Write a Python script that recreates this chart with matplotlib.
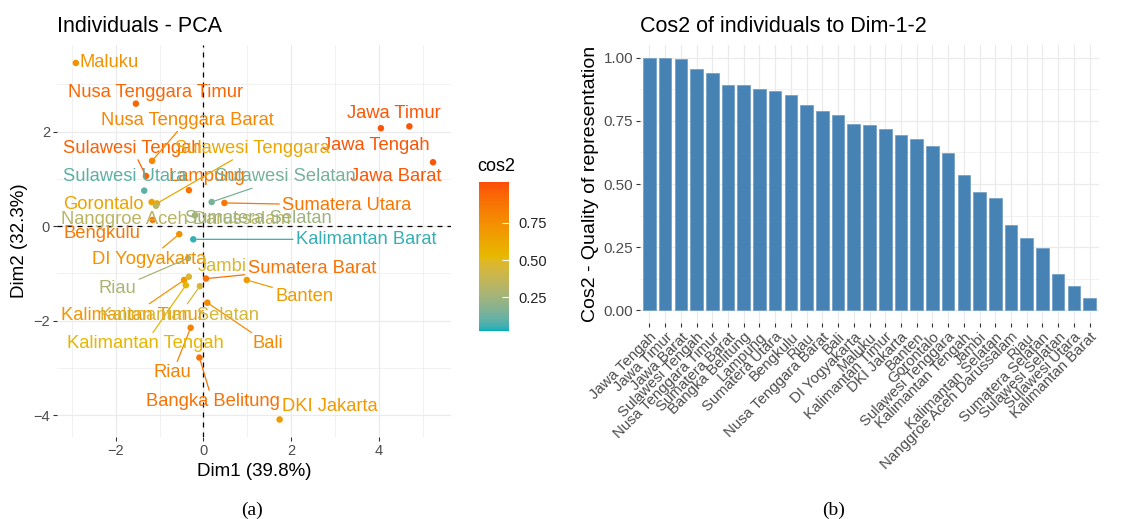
import numpy as np
import matplotlib
matplotlib.use('Agg')
import matplotlib.pyplot as plt
from matplotlib.colors import ListedColormap, Normalize, to_rgb
from matplotlib.ticker import MultipleLocator, FixedLocator

plt.rcParams['font.family'] = ['Liberation Sans', 'DejaVu Sans']

#### data: provinces sorted by cos2 on Dim-1-2 ####

provinces = ['Jawa Tengah', 'Jawa Timur', 'Jawa Barat', 'Sulawesi Tengah',
             'Nusa Tenggara Timur', 'Sumatera Barat', 'Bangka Belitung', 'Lampung',
             'Sumatera Utara', 'Bengkulu', 'Riau', 'Nusa Tenggara Barat', 'Bali',
             'DI Yogyakarta', 'Maluku', 'Kalimantan Timur', 'DKI Jakarta', 'Banten',
             'Gorontalo', 'Sulawesi Tenggara', 'Kalimantan Tengah', 'Jambi',
             'Kalimantan Selatan', 'Nanggroe Aceh Darussalam', 'Riau',
             'Sumatera Selatan', 'Sulawesi Selatan', 'Sulawesi Utara', 'Kalimantan Barat']

cos2 = [1.000, 1.000, 0.996, 0.954, 0.938, 0.892, 0.892, 0.877, 0.867, 0.851,
        0.814, 0.789, 0.773, 0.737, 0.732, 0.716, 0.695, 0.680, 0.649, 0.624,
        0.536, 0.468, 0.443, 0.338, 0.287, 0.246, 0.143, 0.096, 0.050]

dim1 = [4.05, 4.70, 5.24, -1.31, -1.54, 0.06, -0.09, -0.33, 0.48, -1.16,
        -0.29, -1.17, 0.09, -0.55, -2.91, -0.44, 1.74, 0.99, -1.18, -1.06,
        -0.40, -0.33, -0.08, -1.08, -0.35, -0.19, 0.19, -1.35, -0.23]

dim2 = [2.07, 2.11, 1.35, 1.06, 2.59, -1.11, -2.78, 0.76, 0.49, 0.13,
        -2.15, 1.38, -1.62, -0.17, 3.45, -1.14, -4.09, -1.14, 0.51, 0.48,
        -1.25, -1.07, -1.27, 0.43, -0.68, 0.23, 0.51, 0.75, -0.28]

# repelled label centres (same order as provinces)
label_x = [3.94, 4.35, 4.38, -1.62, -1.08, 2.47, 0.21, 0.08, 3.27, -2.32,
           -0.70, -0.37, 1.48, -1.24, -2.14, -1.61, 2.89, 2.30, -2.28, 1.11,
           -1.33, 0.43, -0.55, -0.63, -1.96, 1.26, 1.86, -1.79, 3.71]
label_y = [1.71, 2.38, 1.04, 1.64, 2.82, -0.89, -3.71, 1.04, 0.44, -0.15,
           -3.10, 2.24, -2.49, -0.70, 3.45, -1.88, -3.82, -1.49, 0.46, 1.64,
           -2.49, -0.86, -1.88, 0.13, -1.32, 0.16, 1.04, 1.04, -0.28]
# labels pushed far enough from their point to get a connector
has_segment = [False, False, False, True, False, True, True, False, True, False,
               True, True, True, True, False, True, False, True, False, True,
               True, False, True, False, True, False, True, False, True]

gradient_cols = ['#00AFBB', '#E7B800', '#FC4E07']

#### colour gradient interpolated in Lab space ####

_M = np.array([[0.4124, 0.3576, 0.1805],
               [0.2126, 0.7152, 0.0722],
               [0.0193, 0.1192, 0.9505]])
_WHITE = np.array([0.95047, 1.0, 1.08883])

def rgb_to_lab(rgb):
    rgb = np.asarray(rgb, float)
    lin = np.where(rgb <= 0.04045, rgb / 12.92, ((rgb + 0.055) / 1.055) ** 2.4)
    xyz = _M @ lin / _WHITE
    f = np.where(xyz > 0.008856, np.cbrt(xyz), 7.787 * xyz + 16 / 116)
    return np.array([116 * f[1] - 16, 500 * (f[0] - f[1]), 200 * (f[1] - f[2])])

def lab_to_rgb(lab):
    fy = (lab[0] + 16) / 116
    f = np.array([fy + lab[1] / 500, fy, fy - lab[2] / 200])
    xyz = np.where(f ** 3 > 0.008856, f ** 3, (f - 16 / 116) / 7.787) * _WHITE
    lin = np.linalg.solve(_M, xyz)
    lin = np.clip(lin, 0, 1)
    rgb = np.where(lin <= 0.0031308, 12.92 * lin, 1.055 * lin ** (1 / 2.4) - 0.055)
    return np.clip(rgb, 0, 1)

stops = [rgb_to_lab(to_rgb(c)) for c in gradient_cols]
table = []
for t in np.linspace(0, 1, 256):
    seg = min(int(t * 2), 1)
    u = t * 2 - seg
    table.append(lab_to_rgb(stops[seg] * (1 - u) + stops[seg + 1] * u))
grad = ListedColormap(table, name='cos2')

lo, hi = min(cos2), max(cos2)
half_bin = (hi - lo) / 38
norm = Normalize(vmin=lo - half_bin, vmax=hi + half_bin)
text_grey = '#4D4D4D'
grid_col = '#EBEBEB'

W, H = 1131, 519
fig = plt.figure(figsize=(W / 100, H / 100), dpi=100, facecolor='white')

def px_axes(x0, y0, x1, y1):
    return fig.add_axes([x0 / W, 1 - y1 / H, (x1 - x0) / W, (y1 - y0) / H])

def minimal(ax):
    for side in ['top', 'bottom', 'left', 'right']:
        ax.spines[side].set_visible(False)
    ax.set_axisbelow(True)
    ax.tick_params(which='major', length=3, width=0.8, color='#333333',
                   labelcolor=text_grey, labelsize=10.5, pad=2)
    ax.tick_params(which='minor', length=0)
    ax.grid(which='major', color=grid_col, linewidth=0.9)
    ax.grid(which='minor', color=grid_col, linewidth=0.5)

############################
#### PCA individuals map ####
############################

ax1 = px_axes(57, 45, 451, 437)
minimal(ax1)
ax1.set_xlim(-3.34, 5.65)
ax1.set_ylim(-4.46, 3.83)
ax1.xaxis.set_major_locator(FixedLocator([-2, 0, 2, 4]))
ax1.xaxis.set_minor_locator(FixedLocator([-3, -1, 1, 3, 5]))
ax1.yaxis.set_major_locator(FixedLocator([-4, -2, 0, 2]))
ax1.yaxis.set_minor_locator(FixedLocator([-3, -1, 1, 3]))

ax1.axhline(0, color='black', linestyle=(0, (4, 4)), linewidth=0.9, zorder=1)
ax1.axvline(0, color='black', linestyle=(0, (4, 4)), linewidth=0.9, zorder=1)

ax1.scatter(dim1, dim2, c=cos2, cmap=grad, norm=norm, s=22, zorder=3, linewidths=0)

for name, px, py, lx, ly, c, seg in zip(provinces, dim1, dim2, label_x, label_y,
                                        cos2, has_segment):
    col = grad(norm(c))
    if seg:
        ax1.annotate(name, xy=(px, py), xytext=(lx, ly), ha='center', va='center',
                     fontsize=13.2, color=col, zorder=4,
                     arrowprops=dict(arrowstyle='-', color=col, lw=0.9,
                                     shrinkA=0, shrinkB=2.5))
    else:
        ax1.text(lx, ly, name, ha='center', va='center', fontsize=13.2,
                 color=col, zorder=4)

ax1.set_title('Individuals - PCA', loc='left', fontsize=15.5, pad=9)
ax1.set_xlabel('Dim1 (39.8%)', fontsize=13.5, labelpad=4)
ax1.set_ylabel('Dim2 (32.3%)', fontsize=13.5, labelpad=4)

# colour legend
cax = px_axes(479, 182, 509, 331)
sm = plt.cm.ScalarMappable(cmap=grad, norm=norm)
cb = fig.colorbar(sm, cax=cax)
cb.outline.set_visible(False)
cb.set_ticks([0.25, 0.50, 0.75])
cb.set_ticklabels(['0.25', '0.50', '0.75'])
cax.tick_params(length=5, width=0.8, color='white', direction='in',
                labelsize=10.5, labelcolor='#222222', pad=7)
cax.set_title('cos2', loc='left', fontsize=13, pad=8, x=-0.05)

##################################
#### cos2 bar chart ####
##################################

ax2 = px_axes(640, 45, 1099, 323)
minimal(ax2)
pos = np.arange(len(provinces))
ax2.bar(pos, cos2, width=0.8, color='#4682B4', edgecolor='#6E9CC6', linewidth=0.5, zorder=2)
ax2.set_xlim(-0.6, len(provinces) - 0.4)
ax2.set_ylim(-0.05, 1.05)
ax2.set_xticks(pos)
ax2.set_xticklabels(provinces, rotation=45, ha='right', rotation_mode='anchor',
                    fontsize=10.8, color=text_grey)
ax2.yaxis.set_major_locator(FixedLocator([0, 0.25, 0.5, 0.75, 1.0]))
ax2.yaxis.set_minor_locator(MultipleLocator(0.125))
ax2.set_yticklabels(['0.00', '0.25', '0.50', '0.75', '1.00'])
ax2.tick_params(axis='y', labelsize=11)
ax2.set_title('Cos2 of individuals to Dim-1-2', loc='left', fontsize=15.5, pad=9)
ax2.set_ylabel('Cos2 - Quality of representation', fontsize=14, labelpad=3)

# panel captions
fig.text(252 / W, 1 - 510 / H, '(a)', family=['Liberation Serif', 'DejaVu Serif'],
         fontsize=14, ha='center', va='center')
fig.text(834 / W, 1 - 510 / H, '(b)', family=['Liberation Serif', 'DejaVu Serif'],
         fontsize=14, ha='center', va='center')

plt.savefig('out.png', dpi=100)
